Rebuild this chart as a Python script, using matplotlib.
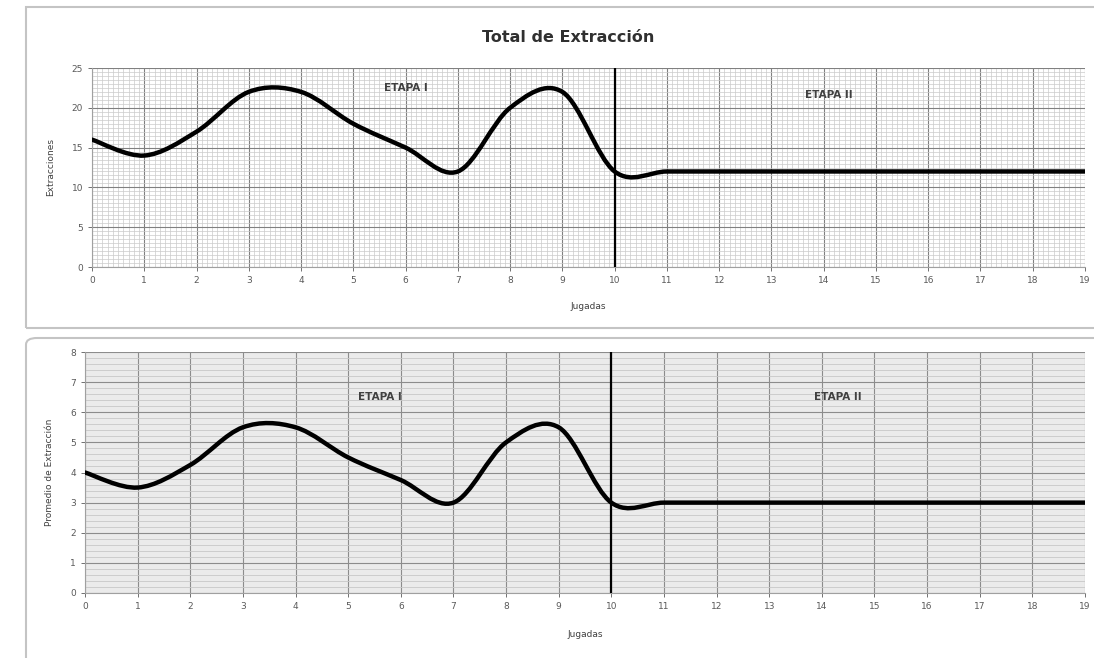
import matplotlib
matplotlib.use("Agg")
import matplotlib.pyplot as plt
from matplotlib.path import Path
from matplotlib.patches import PathPatch, Rectangle, FancyBboxPatch
from matplotlib.ticker import MultipleLocator

jugadas = list(range(20))
total = [16, 14, 17, 22, 22, 18, 15, 12, 20, 22, 12, 12, 12, 12, 12, 12, 12, 12, 12, 12]
promedio = [4, 3.5, 4.25, 5.5, 5.5, 4.5, 3.75, 3, 5, 5.5, 3, 3, 3, 3, 3, 3, 3, 3, 3, 3]
corte = 10
etapas = ["ETAPA I", "ETAPA II"]


def smooth_path(xs, ys):
    # excel-like smoothed line: cubic bezier through every point
    pts = list(zip(xs, ys))
    n = len(pts)
    verts = [pts[0]]
    codes = [Path.MOVETO]
    for i in range(n - 1):
        p0 = pts[i - 1] if i > 0 else pts[i]
        p1 = pts[i]
        p2 = pts[i + 1]
        p3 = pts[i + 2] if i + 2 < n else p2
        c1 = (p1[0] + (p2[0] - p0[0]) / 6, p1[1] + (p2[1] - p0[1]) / 6)
        c2 = (p2[0] - (p3[0] - p1[0]) / 6, p2[1] - (p3[1] - p1[1]) / 6)
        verts += [c1, c2, p2]
        codes += [Path.CURVE4] * 3
    return Path(verts, codes)


def style_axes(ax, ymax, ystep):
    ax.set_xlim(0, 19)
    ax.set_ylim(0, ymax)
    ax.xaxis.set_major_locator(MultipleLocator(1))
    ax.yaxis.set_major_locator(MultipleLocator(ystep))
    ax.tick_params(labelsize=6.5, colors="#595959", length=3, width=0.6)
    for s in ax.spines.values():
        s.set_visible(False)
    ax.spines["left"].set_visible(True)
    ax.spines["bottom"].set_visible(True)
    ax.spines["left"].set_color("#a0a0a0")
    ax.spines["bottom"].set_color("#a0a0a0")
    ax.set_axisbelow(True)


fig = plt.figure(figsize=(10.94, 6.58), dpi=100)

# chart frames
fig.patches.append(Rectangle((26 / 1094, 1 - 328 / 658), 1.0, 321 / 658, transform=fig.transFigure,
                             fill=False, edgecolor="#c4c4c4", lw=1.5))
fig.patches.append(FancyBboxPatch((26 / 1094, -0.05), 1.0, 0.05 + (658 - 338) / 658,
                                  boxstyle="round,pad=0,rounding_size=0.01", transform=fig.transFigure,
                                  fill=False, edgecolor="#c4c4c4", lw=1.5))

# top chart
ax1 = fig.add_axes([92 / 1094, 1 - 267 / 658, 993 / 1094, 199 / 658])
style_axes(ax1, 25, 5)
ax1.xaxis.set_minor_locator(MultipleLocator(0.1))
ax1.yaxis.set_minor_locator(MultipleLocator(0.5))
ax1.tick_params(which="minor", length=0)
ax1.grid(which="major", color="#808080", lw=0.8)
ax1.grid(which="minor", color="#cbcbcb", lw=0.5)
ax1.add_patch(PathPatch(smooth_path(jugadas, total), fill=False, lw=3.2, edgecolor="black",
                        capstyle="round", joinstyle="round", zorder=4))
ax1.axvline(corte, color="black", lw=1.6, zorder=5)
fig.text(568 / 1094, 1 - 38 / 658, "Total de Extracción", fontsize=11.5, fontweight="bold",
         color="#303030", ha="center", va="center")
ax1.set_xlabel("Jugadas", fontsize=6.5, color="#404040", labelpad=12)
ax1.set_ylabel("Extracciones", fontsize=6.5, color="#404040", labelpad=12)
ax1.text(6.0, 22.5, etapas[0], fontsize=7.5, fontweight="bold", color="#404040", ha="center", va="center")
ax1.text(14.1, 21.6, etapas[1], fontsize=7.5, fontweight="bold", color="#404040", ha="center", va="center")

# bottom chart
ax2 = fig.add_axes([85 / 1094, 1 - 593 / 658, 1000 / 1094, 241 / 658])
style_axes(ax2, 8, 1)
ax2.set_facecolor("#ebebeb")
ax2.yaxis.set_minor_locator(MultipleLocator(0.2))
ax2.tick_params(which="minor", length=0)
ax2.grid(which="major", axis="both", color="#8c8c8c", lw=0.8)
ax2.grid(which="minor", axis="y", color="#c8c8c8", lw=0.6)
ax2.add_patch(PathPatch(smooth_path(jugadas, promedio), fill=False, lw=3.2, edgecolor="black",
                        capstyle="round", joinstyle="round", zorder=4))
ax2.axvline(corte, color="black", lw=1.6, zorder=5)
ax2.set_xlabel("Jugadas", fontsize=6.5, color="#404040", labelpad=14)
ax2.set_ylabel("Promedio de Extracción", fontsize=6.5, color="#404040", labelpad=12)
ax2.text(5.6, 6.5, etapas[0], fontsize=7.5, fontweight="bold", color="#404040", ha="center", va="center")
ax2.text(14.3, 6.5, etapas[1], fontsize=7.5, fontweight="bold", color="#404040", ha="center", va="center")

fig.savefig("out.png", dpi=100)
